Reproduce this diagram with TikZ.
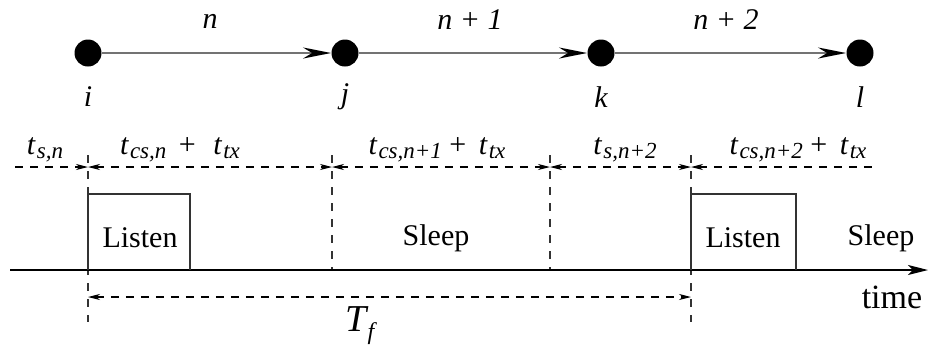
\documentclass[tikz,border=0pt]{standalone}
\usepackage{fontspec}
\setmainfont{Liberation Serif}
\usetikzlibrary{arrows.meta}
\newcommand{\tsb}[2]{{\itshape #1\kern0.8pt\raisebox{-0.3ex}{\fontsize{11.5}{12}\selectfont #2}}}
\tikzset{dimtip/.tip={Stealth[length=6pt,width=3pt,inset=1.8pt]}}
\begin{document}
\begin{tikzpicture}[x=0.5pt,y=-0.5pt,
  every node/.style={font=\fontsize{15}{17}\selectfont},
  dot/.style={circle,fill=black,inner sep=0pt,minimum size=13.5pt},
  edge/.style={draw=black!55,line width=1.1pt,-{Stealth[length=14pt,width=5.5pt,inset=4.5pt,black]}},
  dimline/.style={dash pattern=on 4pt off 3.5pt,line width=0.6pt},
  guide/.style={dash pattern=on 4pt off 4pt,line width=0.6pt,black!80},
  lbl/.style={inner sep=0pt},
  box/.style={draw=black!80,line width=0.6pt}]
\useasboundingbox (0,0) rectangle (928,344);
% nodes
\node[dot] (i) at (88,53) {};
\node[dot] (j) at (345,53) {};
\node[dot] (k) at (601,53) {};
\node[dot] (l) at (860,53) {};
\draw[edge] (i) -- (j);
\draw[edge] (j) -- (k);
\draw[edge] (k) -- (l);
\node[lbl] (ln1) at (210,21) {\itshape n};
\node[lbl] (ln2) at (470,20) {\itshape n + 1};
\node[lbl] (ln3) at (726,20) {\itshape n + 2};
\node[lbl] (li) at (88,97) {\itshape i};
\node[lbl] (lj) at (345,97) {\itshape j};
\node[lbl] (lk) at (601,97) {\itshape k};
\node[lbl] (ll) at (860,97) {\itshape l};
% coordinates
\coordinate (d0) at (15,167);
\coordinate (d1) at (88,167);
\coordinate (d2) at (332,167);
\coordinate (d3) at (550,167);
\coordinate (d4) at (691,167);
\coordinate (d5) at (878,167);
% guides
\coordinate (g1t) at (88,155);  \coordinate (g1b) at (88,322);
\coordinate (g2t) at (332,155); \coordinate (g2b) at (332,270);
\coordinate (g3t) at (550,155); \coordinate (g3b) at (550,270);
\coordinate (g4t) at (691,155); \coordinate (g4b) at (691,322);
\draw[guide] (g1t) -- (g1b);
\draw[guide] (g2t) -- (g2b);
\draw[guide] (g3t) -- (g3b);
\draw[guide] (g4t) -- (g4b);
% dimension row
\draw[dimline,-{dimtip}] (d0) -- (d1);
\draw[dimline,{dimtip}-{dimtip}] (d1) -- (d2);
\draw[dimline,{dimtip}-{dimtip}] (d2) -- (d3);
\draw[dimline,{dimtip}-{dimtip}] (d3) -- (d4);
\draw[dimline,{dimtip}-] (d4) -- (d5);
\node[lbl] (t1) at (45,150) {\tsb{t}{s,n}};
\node[lbl] (t2) at (180,150) {\tsb{t}{cs,n} \,+\,\, \tsb{t}{tx}};
\node[lbl] (t3) at (437,150) {\tsb{t}{cs,n+1} + \,\tsb{t}{tx}};
\node[lbl] (t4) at (625,150) {\tsb{t}{s,n+2}};
\node[lbl] (t5) at (798,150) {\tsb{t}{cs,n+2} + \,\tsb{t}{tx}};
% timeline
\coordinate (a0) at (10,270);
\coordinate (a1) at (928,270);
\draw[line width=1pt,-{Stealth[length=10pt,width=5pt,inset=2.5pt]}] (a0) -- (a1);
% boxes
\draw[box] (88,270) -- (88,194) -- (190,194) -- (190,270);
\draw[box] (691,270) -- (691,194) -- (796,194) -- (796,270);
\node[lbl] (ls1) at (140,238) {Listen};
\node[lbl] (sl1) at (436,238) {Sleep};
\node[lbl] (ls2) at (743,238) {Listen};
\node[lbl] (sl2) at (881,238) {Sleep};
\node[lbl,font=\fontsize{17}{19}\selectfont] (tm) at (892,297) {time};
% T_f
\coordinate (f1) at (88,297);
\coordinate (f2) at (691,297);
\draw[dimline,{dimtip}-{dimtip}] (f1) -- (f2);
\node[lbl,font=\fontsize{19}{21}\selectfont] (tf) at (360,326) {{\itshape T\kern0.3pt\raisebox{-0.45ex}{\fontsize{12}{13}\selectfont f}}};
\end{tikzpicture}
\end{document}
